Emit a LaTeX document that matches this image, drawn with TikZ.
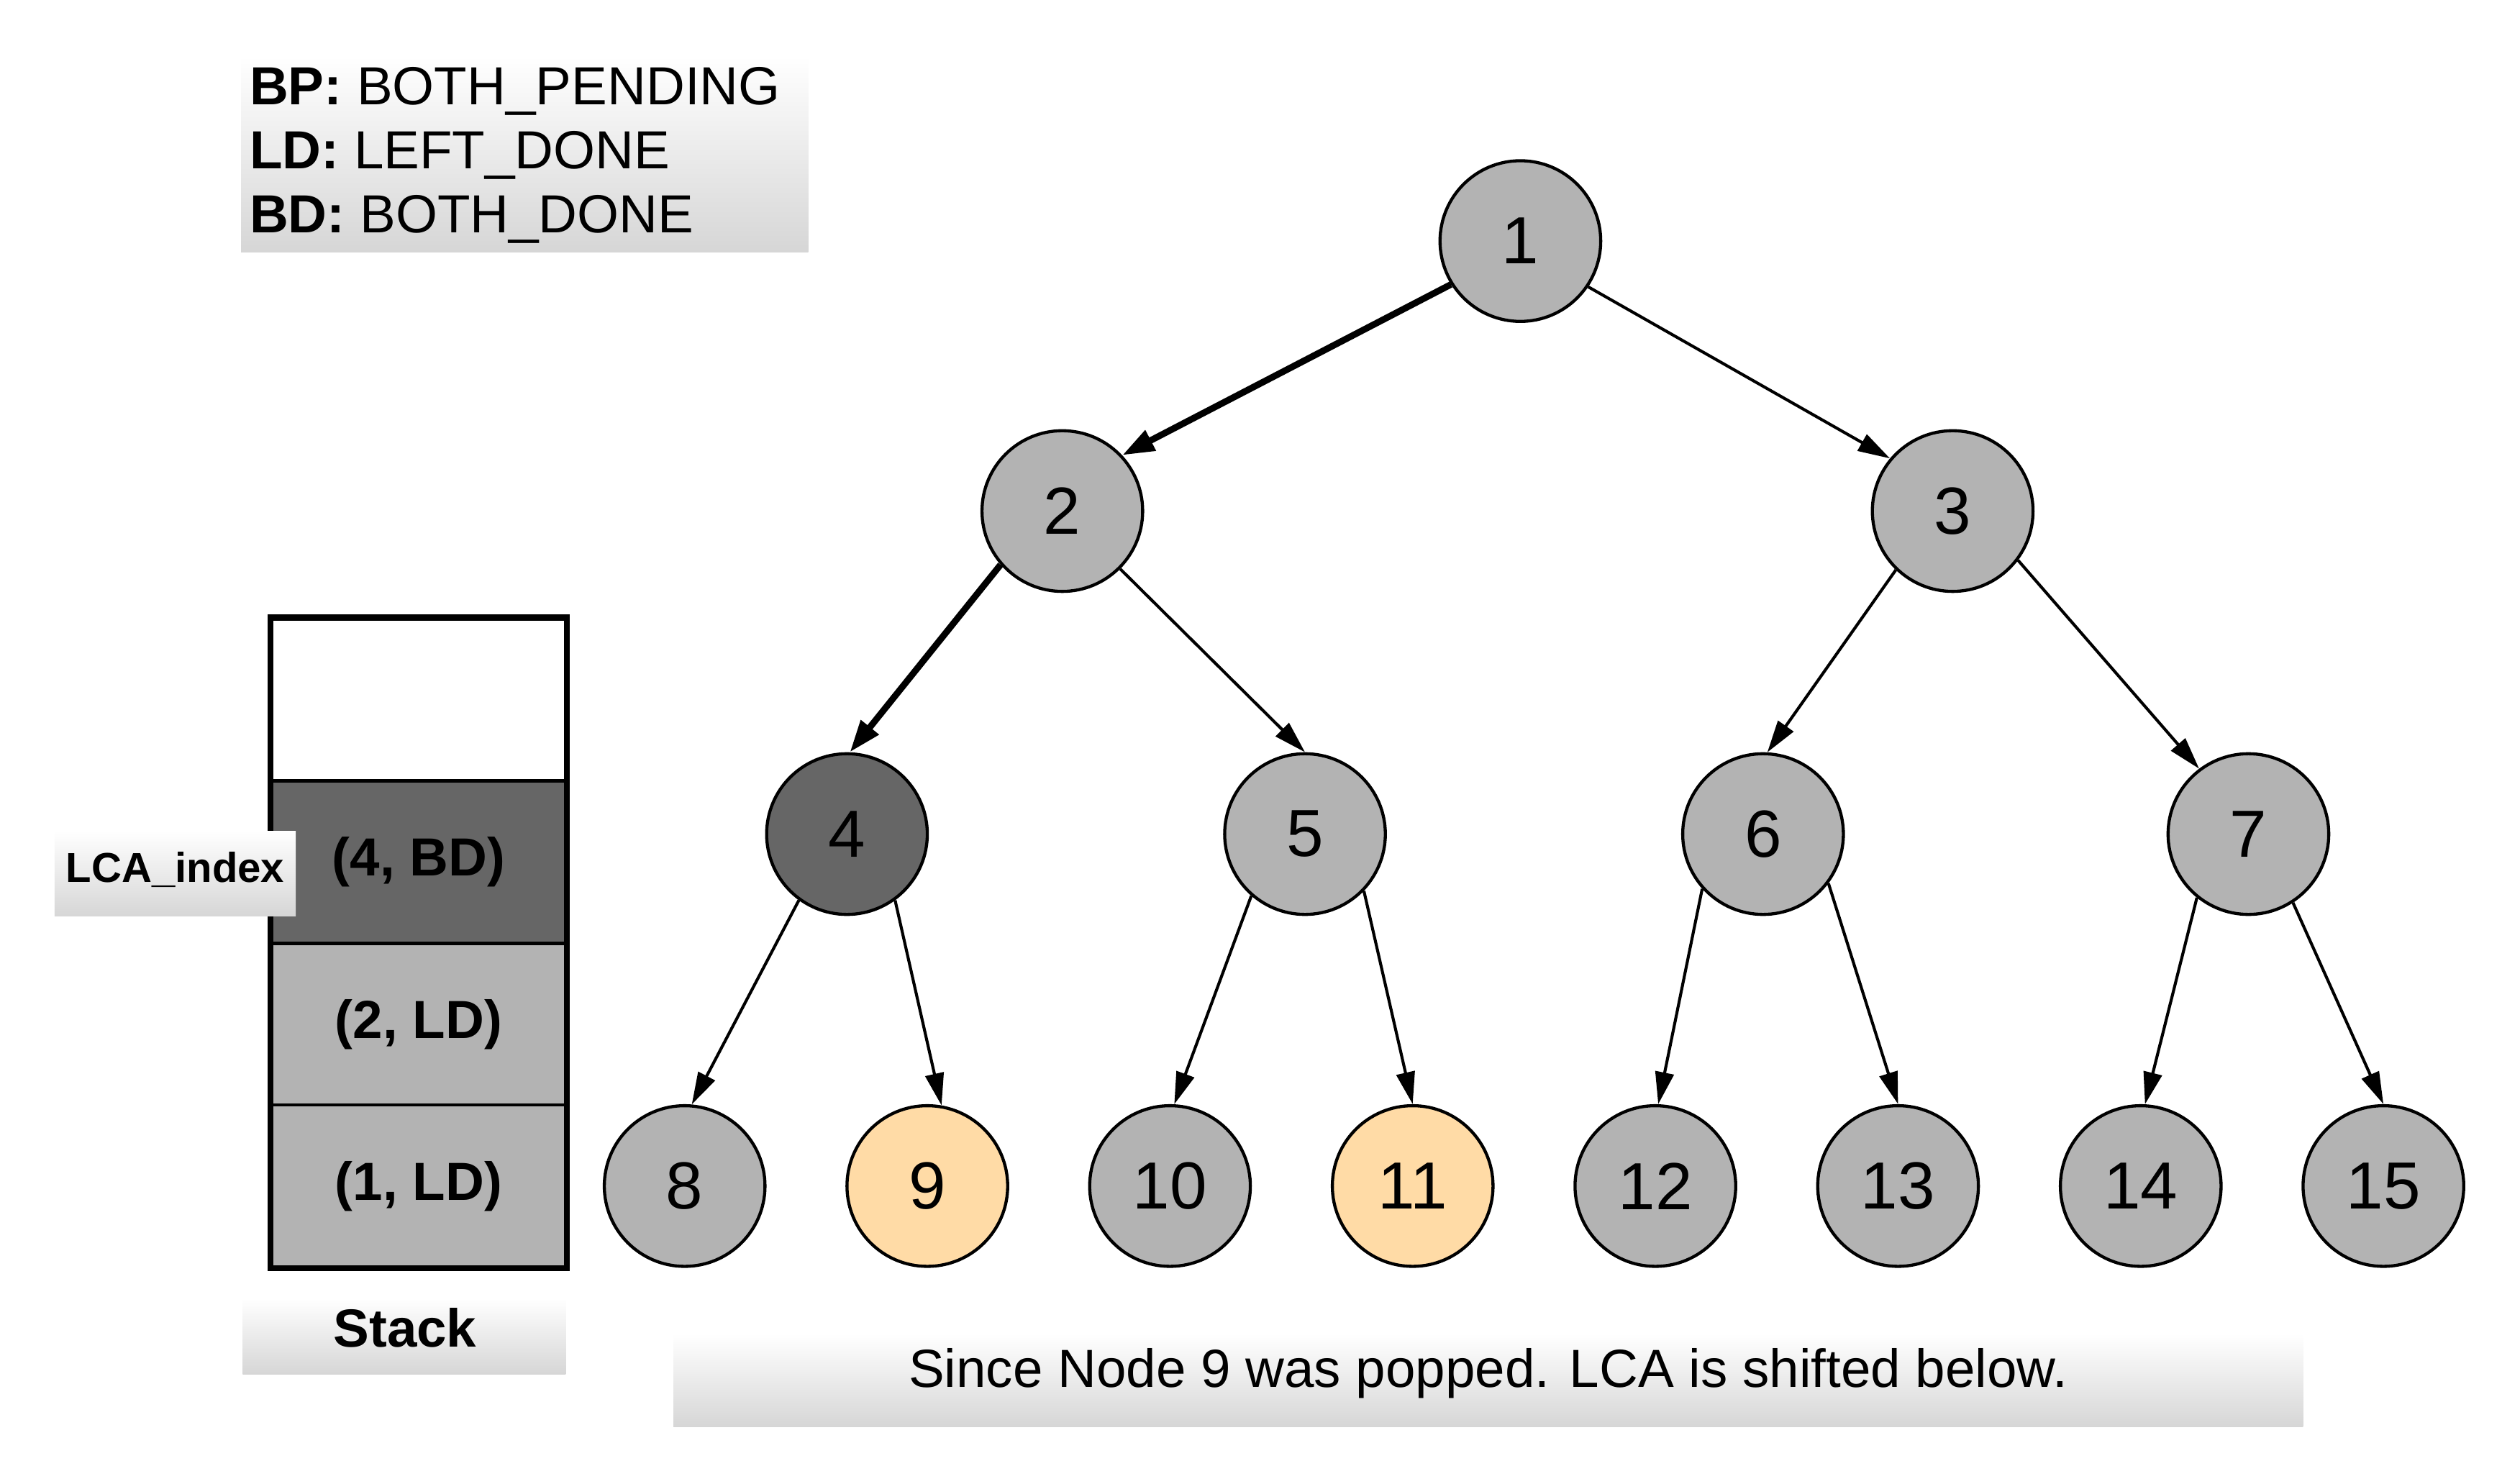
\documentclass[tikz,border=0pt]{standalone}
\usepackage{fontspec}
\setmainfont{Liberation Sans}
\usetikzlibrary{arrows.meta}
\definecolor{nodegray}{HTML}{B3B3B3}
\definecolor{lcagray}{HTML}{666666}
\definecolor{popped}{HTML}{FFDBA6}
\definecolor{boxgray}{HTML}{D6D6D6}
\begin{document}
\begin{tikzpicture}[x=0.02cm,y=-0.02cm,
  vertex/.style={circle,draw,line width=1.1pt,fill=nodegray,minimum size=2cm,inner sep=0pt,font=\fontsize{23.6}{28}\selectfont},
  edge/.style={line width=1.05pt,-{Triangle[length=0.4cm,width=0.23cm]}},
  walked/.style={line width=2.3pt,-{Triangle[length=0.4cm,width=0.27cm]}},
  cell/.style={draw,line width=1.2pt,minimum width=3.66cm,minimum height=2.02cm,inner sep=0pt,font=\fontsize{19}{22}\selectfont\bfseries},
  txt/.style={inner sep=0pt,font=\fontsize{19}{22}\selectfont}]
\useasboundingbox (0,0) rectangle (1568,923.4);
\shade [top color=white,bottom color=boxgray] (150,35) rectangle (503,157);
\node [txt,anchor=base west] (bp) at (155,65) {\textbf{BP:} BOTH\_PENDING};
\node [txt,anchor=base west] (ld) at (155,105) {\textbf{LD:} LEFT\_DONE};
\node [txt,anchor=base west] (bd) at (155,145) {\textbf{BD:} BOTH\_DONE};
\node [cell,fill=white] (top) at (260.5,435.5) {};
\node [cell,fill=lcagray] (s4) at (260.5,536.5) {(4, BD)};
\node [cell,fill=nodegray] (s2) at (260.5,637.5) {(2, LD)};
\node [cell,fill=nodegray] (s1) at (260.5,738) {(1, LD)};
\draw [line width=1.8pt] (top.north west) rectangle (s1.south east);
\shade [top color=white,bottom color=boxgray] (34,517) rectangle (184,570);
\node [txt,anchor=base,font=\fontsize{14.8}{17}\selectfont\bfseries] (lca) at (109,549) {LCA\_index};
\shade [top color=white,bottom color=boxgray] (151,808) rectangle (352,855);
\node [txt,anchor=base,font=\fontsize{19}{22}\selectfont\bfseries] (stack) at (252,838) {Stack};
\shade [top color=white,bottom color=boxgray] (419,830) rectangle (1433,888);
\node [txt,anchor=base] (note) at (926,863) {Since Node 9 was popped. LCA is shifted below.};
\node [vertex] (n1) at (946,150) {1};
\node [vertex] (n2) at (661,318) {2};
\node [vertex] (n3) at (1215,318) {3};
\node [vertex,fill=lcagray] (n4) at (527,519) {4};
\node [vertex] (n5) at (812,519) {5};
\node [vertex] (n6) at (1097,519) {6};
\node [vertex] (n7) at (1399,519) {7};
\node [vertex] (n8) at (426,738) {8};
\node [vertex,fill=popped] (n9) at (577,738) {9};
\node [vertex] (n10) at (728,738) {10};
\node [vertex,fill=popped] (n11) at (879,738) {11};
\node [vertex] (n12) at (1030,738) {12};
\node [vertex] (n13) at (1181,738) {13};
\node [vertex] (n14) at (1332,738) {14};
\node [vertex] (n15) at (1483,738) {15};
\draw [walked] (n1.212) -- (n2.43);
\draw [edge] (n1.326) -- (n3.140);
\draw [walked] (n2.221) -- (n4.88);
\draw [edge] (n2.315) -- (n5.90);
\draw [edge] (n3.226) -- (n6.87);
\draw [edge] (n3.323) -- (n7.127);
\draw [edge] (n4.234) -- (n8.85);
\draw [edge] (n4.306) -- (n9.80);
\draw [edge] (n5.229) -- (n10.87);
\draw [edge] (n5.316) -- (n11.90);
\draw [edge] (n6.222) -- (n12.88);
\draw [edge] (n6.323) -- (n13.90);
\draw [edge] (n7.231) -- (n14.87);
\draw [edge] (n7.303) -- (n15.90);
\end{tikzpicture}
\end{document}
